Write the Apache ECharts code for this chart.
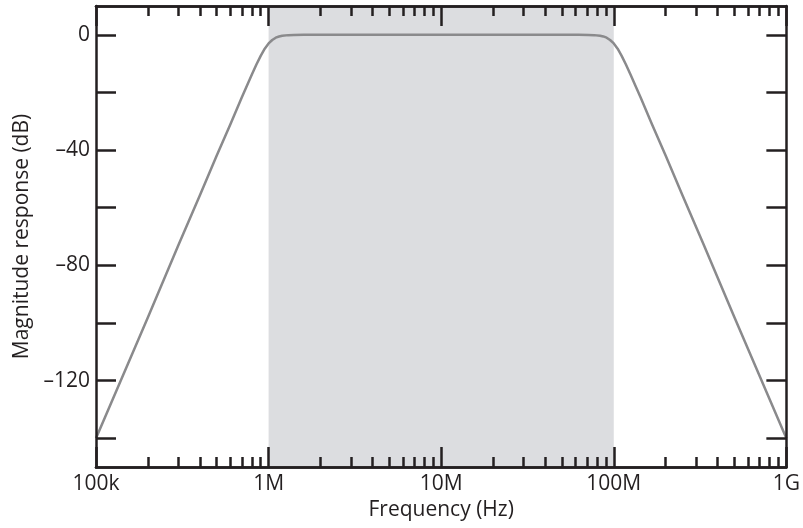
<!DOCTYPE html>
<html>
<head>
<meta charset="utf-8">
<script src="https://cdn.jsdelivr.net/npm/echarts@6/dist/echarts.min.js"></script>
<style>
html,body{margin:0;padding:0;background:#fff;}
#chart{width:803px;height:528px;}
</style>
</head>
<body>
<div id="chart"></div>
<script>
// Frequency (Hz) and magnitude (dB)
const freqHz = [1e5, 2e5, 3e5, 4e5, 5e5, 6e5, 7e5, 7.5e5, 8e5, 8.5e5, 9e5, 9.5e5, 1e6, 1.05e6, 1.1e6, 1.15e6, 1.2e6, 1.3e6, 1.4e6, 1.6e6, 2e6,
                1e7,
                5e7, 6.25e7, 7.14e7, 7.69e7, 8.33e7, 8.7e7, 9.09e7, 9.52e7, 1e8, 1.053e8, 1.111e8, 1.176e8, 1.25e8, 1.333e8, 1.429e8, 1.667e8, 2e8, 2.5e8, 3.33e8, 5e8, 1e9];
const magDb  = [-140, -98, -73, -55.7, -42, -31.1, -21.7, -17.6, -13.8, -10.3, -7.3, -4.8, -3, -1.8, -1.0, -0.57, -0.3, -0.11, -0.04, 0, 0,
                0,
                0, 0, -0.04, -0.11, -0.3, -0.57, -1.0, -1.8, -3, -4.8, -7.3, -10.3, -13.8, -17.6, -21.7, -31.1, -42, -55.7, -73, -98, -140];
const xMajorTicks = [1e5, 1e6, 1e7, 1e8, 1e9];
const xMajorLabels = ['100k', '1M', '10M', '100M', '1G'];
const xMinorTicks = [2e5, 3e5, 4e5, 5e5, 6e5, 7e5, 8e5, 9e5,
                     2e6, 3e6, 4e6, 5e6, 6e6, 7e6, 8e6, 9e6,
                     2e7, 3e7, 4e7, 5e7, 6e7, 7e7, 8e7, 9e7,
                     2e8, 3e8, 4e8, 5e8, 6e8, 7e8, 8e8, 9e8];
const yTicks = [0, -20, -40, -60, -80, -100, -120, -140];
const yLabels = [0, -40, -80, -120];
const passBand = [1e6, 1e8];
</script>
<script>
const INK = '#231f20';
const FONT = '"Open Sans", sans-serif';
const FS = 21;
const chart = echarts.init(document.getElementById('chart'), null, {renderer: 'canvas'});

function xAx(pos, major, showLabel) {
  return {
    type: 'log', logBase: 10, min: 1e5, max: 1e9, position: pos, z: 10,
    axisLine: {show: true, onZero: false, lineStyle: {color: INK, width: 2.5}},
    axisTick: {show: true, inside: true, length: major ? 20 : 10,
      lineStyle: {color: INK, width: 2.5},
      customValues: major ? xMajorTicks : xMinorTicks},
    axisLabel: {show: showLabel, customValues: xMajorTicks, margin: 7,
      color: INK, fontFamily: FONT, fontSize: FS,
      formatter: v => { const i = xMajorTicks.findIndex(t => Math.abs(Math.log10(t) - Math.log10(v)) < 1e-6); return i >= 0 ? xMajorLabels[i] : ''; }},
    splitLine: {show: false}, minorTick: {show: false}, minorSplitLine: {show: false}
  };
}
function yAx(pos, showLabel) {
  return {
    type: 'value', min: -150, max: 10, position: pos, z: 10,
    axisLine: {show: true, onZero: false, lineStyle: {color: INK, width: 2.5}},
    axisTick: {show: true, inside: true, length: 20, lineStyle: {color: INK, width: 2.5}, customValues: yTicks},
    axisLabel: {show: showLabel, customValues: yLabels, margin: 6, color: INK, fontFamily: FONT, fontSize: FS,
      formatter: v => v < 0 ? '\u2013' + Math.abs(v) : String(v)},
    splitLine: {show: false},
    name: showLabel ? 'Magnitude response (dB)' : '', nameLocation: 'middle', nameGap: 55,
    nameTextStyle: {color: INK, fontFamily: FONT, fontSize: FS}
  };
}
const xAxes = [xAx('bottom', true, true), xAx('bottom', false, false), xAx('top', true, false), xAx('top', false, false)];
xAxes[0].name = 'Frequency (Hz)';
xAxes[0].nameLocation = 'middle';
xAxes[0].nameGap = 32;
xAxes[0].nameTextStyle = {color: INK, fontFamily: FONT, fontSize: FS};

chart.setOption({
  animation: false,
  grid: {left: 96, right: 16, top: 6, bottom: 61, containLabel: false},
  xAxis: xAxes,
  yAxis: [yAx('left', true), yAx('right', false)],
  series: [{
    type: 'line', xAxisIndex: 0, yAxisIndex: 0, showSymbol: false, smooth: false,
    lineStyle: {color: '#8a8a8c', width: 2.5, join: 'round'},
    data: freqHz.map((f, i) => [f, magDb[i]]),
    markArea: {silent: true, itemStyle: {color: '#dcdde0', opacity: 1},
      data: [[{xAxis: passBand[0]}, {xAxis: passBand[1]}]]},
    z: 5
  }]
});
</script>
</body>
</html>
